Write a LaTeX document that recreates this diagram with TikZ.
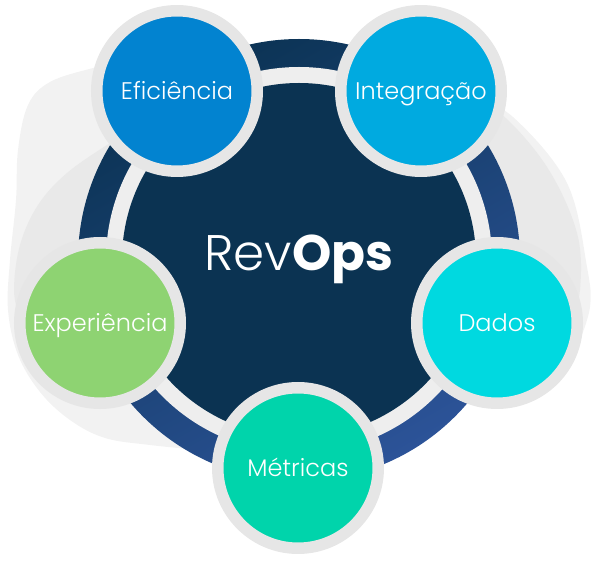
\documentclass[tikz,border=0pt]{standalone}
\usepackage{fontspec}
\setmainfont{Poppins}
\newfontfamily\poplight{Poppins Light}
\definecolor{blobL}{HTML}{F2F2F2}
\definecolor{blobD}{HTML}{E9E9E9}
\definecolor{navy}{HTML}{0B3352}
\definecolor{bandTop}{HTML}{0B3354}
\definecolor{bandBot}{HTML}{2C5398}
\definecolor{gapgray}{HTML}{EEEEEE}
\definecolor{ringgray}{HTML}{E6E6E6}
\definecolor{cEf}{HTML}{0283D0}
\definecolor{cIn}{HTML}{00AAE0}
\definecolor{cDa}{HTML}{00D9E0}
\definecolor{cMe}{HTML}{00D4AB}
\definecolor{cEx}{HTML}{8ED372}
\tikzset{
  petal/.style={circle, minimum size=160.5pt, inner sep=0pt, draw=ringgray,
    line width=11.5pt, text=white, font=\poplight\fontsize{24}{28}\selectfont,
    text height=17.3pt, text depth=0pt},
  disc/.style={circle, inner sep=0pt, minimum size=#1}
}
\begin{document}
\begin{tikzpicture}[x=1pt,y=-1pt]
\useasboundingbox (0,0) rectangle (595,561);
% background blobs
\fill[blobL] plot[smooth, tension=0.6] coordinates {(130,60) (93,68) (50,82) (28,105) (18,150) (16,200) (10,260) (8,310) (18,355) (40,392) (70,420) (105,438) (150,445) (200,450)} -- (299,259) -- cycle;
\fill[blobD] plot[smooth, tension=0.6] coordinates {(140,125) (110,143) (67,173) (38,205) (20,245) (14,290) (20,320)} -- (299,259) -- cycle;
\fill[blobL] plot[smooth, tension=0.6] coordinates {(470,95) (513,117) (567,183) (587,267) (590,307) (578,345)} -- (299,259) -- cycle;
\fill[blobD] plot[smooth, tension=0.6] coordinates {(465,100) (500,113) (547,167) (577,233) (580,290) (570,320)} -- (299,259) -- cycle;
% ring
\node[disc=442pt, top color=bandTop, bottom color=bandBot, shading angle=30] (band) at (299,260) {};
\node[disc=386pt, fill=gapgray] (gap) at (299,260) {};
\node[disc=354pt, fill=navy] (core) at (299,260) {};
\node[inner sep=0pt, text=white, font=\fontsize{50}{60}\selectfont, text height=35pt, text depth=0pt] (title) at (299,253.5) {{\poplight Rev}{\bfseries Ops}};
% petals
\node[petal, fill=cEf] (ef) at (177,91) {Eficiência};
\node[petal, fill=cIn] (in) at (421,91) {Integração};
\node[petal, fill=cDa] (da) at (497,323) {Dados};
\node[petal, fill=cMe] (me) at (298,468) {Métricas};
\node[petal, fill=cEx] (ex) at (100,323) {Experiência};
\end{tikzpicture}
\end{document}
